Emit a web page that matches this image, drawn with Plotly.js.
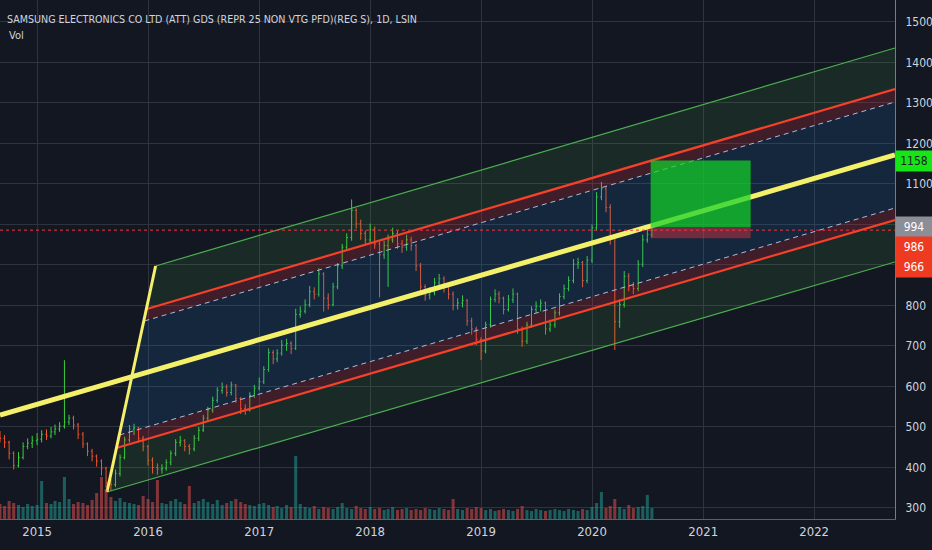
<!DOCTYPE html>
<html><head><meta charset="utf-8">
<script src="https://cdn.plot.ly/plotly-3.0.1.min.js"></script>
<style>html,body{margin:0;padding:0;background:#131722;}#chart{width:932px;height:550px;}</style>
</head><body><div id="chart"></div>
<script>
// ---- price data (semi-monthly OHLC) ----
const dates = [];
for (let y = 2014; y <= 2020; y++) {
  for (let m = 1; m <= 12; m++) {
    if (y === 2014 && m < 9) continue;
    if (y === 2020 && m > 7) break;
    const mm = String(m).padStart(2, '0');
    dates.push(y + '-' + mm + '-01', y + '-' + mm + '-16');
  }
}
const firstOpen = 478;
const closes = [
  472,462,435,405,425,452,460,466,
  470,482,478,488,495,502,512,522,505,482,458,440,428,416,398,362,358,385,425,468,495,498,472,452,
  418,400,396,398,412,435,462,466,452,446,472,492,522,542,566,590,598,585,604,570,545,542,578,596,
  612,642,684,668,682,702,706,694,778,786,802,834,828,878,818,802,846,898,944,968,1035,1002,978,962,
  988,952,925,948,962,978,952,944,962,948,898,846,826,832,856,866,845,828,800,806,812,762,742,716,
  688,752,815,828,818,790,814,828,742,712,752,790,798,806,742,752,782,822,842,862,902,906,862,912,
  992,1068,1088,1042,968,760,802,872,848,842,902,962,975,986
];
const highs = [
  490,480,466,440,438,462,472,478,
  485,492,494,500,506,512,665,530,528,510,488,462,446,432,420,402,372,395,432,476,505,508,500,478,
  456,425,410,408,420,442,470,478,470,458,480,500,530,550,575,598,610,605,612,606,574,556,586,604,
  622,650,694,690,692,715,718,712,792,798,815,848,845,892,882,830,856,905,952,978,1062,1040,1012,985,
  1002,995,958,960,975,992,985,962,975,970,952,905,852,845,868,878,872,852,835,818,825,816,770,748,
  722,760,822,840,835,822,826,842,832,748,760,798,810,815,810,765,790,830,852,872,915,918,910,922,
  1000,1080,1105,1095,1050,972,815,885,880,858,912,975,990,998
];
const lows = [
  462,448,420,395,400,420,445,448,
  455,462,468,472,480,488,496,505,494,470,448,428,415,402,380,350,342,352,378,420,462,480,462,440,
  405,385,382,385,392,405,428,452,440,432,440,465,488,515,535,560,582,575,578,560,532,530,538,572,
  590,606,636,655,660,676,688,680,690,770,780,796,815,822,785,790,798,840,890,936,960,990,962,948,
  955,940,820,915,846,955,940,930,935,935,885,832,812,815,825,848,832,815,788,790,795,750,728,702,
  665,682,745,808,805,778,785,806,730,698,705,745,782,785,728,735,745,775,815,835,855,890,845,855,
  905,985,1060,1030,950,690,745,795,835,828,835,895,955,968
];
const volumes = [
  150,130,180,160,140,120,150,130,
  140,380,160,150,180,170,420,200,150,170,160,140,190,260,420,300,220,180,210,170,160,150,140,230,
  200,170,390,160,150,180,200,170,150,330,160,180,200,170,150,190,140,160,180,200,170,150,140,130,
  150,160,140,120,130,110,140,120,630,150,120,110,130,100,120,110,100,120,160,110,100,130,110,100,
  120,100,110,90,100,120,90,100,110,90,100,90,110,100,90,110,100,90,200,100,90,110,100,120,
  110,90,100,80,90,100,90,80,100,130,90,80,100,90,80,90,100,90,80,100,90,80,100,90,
  120,160,270,110,130,200,120,100,140,110,120,130,240,110
];
const opens = closes.map((c, i) => i === 0 ? firstOpen : closes[i - 1]);

// ---- pitchfork drawing anchors (date, price) ----
const edgeDate = '2022-09-24';
const medianX = ['2014-09-01', edgeDate], medianY = [529.6, 1171.6];
const handleX = ['2015-08-19', '2016-01-26'], handleY = [339.5, 897.5];
const greenUpX = ['2016-01-26', edgeDate], greenUpY = [897.5, 1435.8];
const redUpX = ['2015-12-28', edgeDate], redUpY = [791.4, 1334.6];
const dashUpX = ['2015-12-20', edgeDate], dashUpY = [761.7, 1302.5];
const dashLoX = ['2015-09-29', edgeDate], dashLoY = [480.2, 1040.7];
const redLoX = ['2015-09-19', edgeDate], redLoY = [448.1, 1011.1];
const greenLoX = ['2015-08-19', edgeDate], greenLoY = [339.5, 907.4];

// ---- long position box ----
const boxX = ['2020-07-12', '2021-06-06'];
const targetPrice = 1158, entryPrice = 994, stopPrice = 966, lastPrice = 986;

// tick values; 900 and 1000 are hidden behind the price labels in the reference
const yTicks = [300,400,500,600,700,800,900,1000,1100,1200,1300,1400,1500];
const yTickText = ['300','400','500','600','700','800','','','1100','1200','1300','1400','1500'];

function band(topX, topY, botX, botY, color) {
  return {
    type: 'scatter', mode: 'lines', fill: 'toself', fillcolor: color,
    x: [topX[0], topX[1], botX[1], botX[0]], y: [topY[0], topY[1], botY[1], botY[0]],
    line: {width: 0}, hoverinfo: 'skip', showlegend: false
  };
}
function seg(x, y, color, width, dash) {
  return {type: 'scatter', mode: 'lines', x: x, y: y, line: {color: color, width: width, dash: dash || 'solid'},
    hoverinfo: 'skip', showlegend: false};
}

const GREEN_FILL = 'rgba(76,175,80,0.13)';
const RED_FILL = 'rgba(242,54,69,0.2)';
const BLUE_FILL = 'rgba(33,150,243,0.13)';

const traces = [
  band(greenUpX, greenUpY, redUpX, redUpY, GREEN_FILL),
  band(redUpX, redUpY, dashUpX, dashUpY, RED_FILL),
  band(dashUpX, dashUpY, dashLoX, dashLoY, BLUE_FILL),
  band(dashLoX, dashLoY, redLoX, redLoY, RED_FILL),
  band(redLoX, redLoY, greenLoX, greenLoY, GREEN_FILL),
  {
    type: 'bar', x: dates, y: volumes, yaxis: 'y2', width: 10 * 86400000,
    marker: {color: closes.map((c, i) => c >= opens[i] ? 'rgba(38,166,154,0.5)' : 'rgba(239,83,80,0.5)'), line: {width: 0}},
    hoverinfo: 'skip', showlegend: false
  },
  {
    type: 'ohlc', x: dates, open: opens, high: highs, low: lows, close: closes,
    increasing: {line: {color: '#3ccf3c', width: 1}},
    decreasing: {line: {color: '#f2552c', width: 1}},
    tickwidth: 0.3, hoverinfo: 'skip', showlegend: false
  },
  seg(greenUpX, greenUpY, '#4caf50', 1.2),
  seg(greenLoX, greenLoY, '#4caf50', 1.2),
  seg(dashUpX, dashUpY, '#a9bcdf', 1, '5px,4px'),
  seg(dashLoX, dashLoY, '#a9bcdf', 1, '5px,4px'),
  seg(redUpX, redUpY, '#f5402a', 2.2),
  seg(redLoX, redLoY, '#f5402a', 2.2),
  seg(medianX, medianY, '#f5f06a', 5),
  seg(handleX, handleY, '#f5f06a', 3)
];

const FONT = 'DejaVu Sans Condensed, Liberation Sans Narrow, sans-serif';

function priceLabel(val, text, bg, fg, yshift) {
  return {
    xref: 'paper', yref: 'y', x: 1, y: val, xanchor: 'left', yanchor: 'middle',
    text: text, showarrow: false, bgcolor: bg, borderpad: 0, width: 36, height: 20,
    yshift: yshift, font: {family: FONT, size: 12, color: fg}, align: 'center'
  };
}

const layout = {
  width: 932, height: 550,
  margin: {l: 0, r: 37, t: 0, b: 31},
  paper_bgcolor: '#131722', plot_bgcolor: '#131722',
  font: {family: FONT, color: '#d1d4dc', size: 12},
  title: {text: 'SAMSUNG ELECTRONICS CO LTD (ATT) GDS (REPR 25 NON VTG PFD)(REG S), 1D, LSIN',
    x: 7 / 932, xanchor: 'left', y: 1 - 19 / 550, yanchor: 'middle', xref: 'container', yref: 'container',
    font: {family: FONT, size: 10.6, color: '#d1d4dc'}},
  showlegend: false,
  xaxis: {
    type: 'date', range: ['2014-09-01', edgeDate], rangeslider: {visible: false},
    tick0: '2015-01-01', dtick: 'M12', tickformat: '%Y', ticks: '',
    showgrid: true, gridcolor: '#2f333e', gridwidth: 1,
    showline: true, linecolor: '#5d606b', linewidth: 1,
    zeroline: false, fixedrange: true,
    tickfont: {family: FONT, size: 13, color: '#d1d4dc'}
  },
  yaxis: {
    side: 'right', range: [272.8, 1554.3], tickmode: 'array', tickvals: yTicks, ticktext: yTickText,
    showgrid: true, gridcolor: '#2f333e', gridwidth: 1,
    showline: true, linecolor: '#787b86', linewidth: 1,
    zeroline: false, ticks: '', ticklabelstandoff: 7,
    tickfont: {family: FONT, size: 12, color: '#d1d4dc'}, fixedrange: true
  },
  yaxis2: {overlaying: 'y', range: [0, 5190], visible: false, fixedrange: true},
  shapes: [
    {type: 'rect', xref: 'x', yref: 'y', x0: boxX[0], x1: boxX[1], y0: entryPrice, y1: targetPrice,
      fillcolor: 'rgba(20,210,40,0.72)', line: {width: 0}, layer: 'above'},
    {type: 'rect', xref: 'x', yref: 'y', x0: boxX[0], x1: boxX[1], y0: stopPrice, y1: entryPrice,
      fillcolor: 'rgba(242,54,69,0.42)', line: {width: 0}, layer: 'above'},
    {type: 'line', xref: 'paper', yref: 'y', x0: 0, x1: 1, y0: lastPrice, y1: lastPrice,
      line: {color: '#f23645', width: 1, dash: 'dot'}, layer: 'above'}
  ],
  annotations: [
    {xref: 'paper', yref: 'paper', x: 0, y: 1 - 36 / 519, xshift: 7, xanchor: 'left', yanchor: 'middle',
      text: 'Vol', showarrow: false, font: {family: FONT, size: 11, color: '#d1d4dc'}},
    priceLabel(targetPrice, String(targetPrice), '#16e516', '#1b1e28', 0),
    priceLabel(entryPrice, String(entryPrice), '#8b8e97', '#ffffff', 0),
    priceLabel(lastPrice, String(lastPrice), '#ef3a22', '#ffffff', -17),
    priceLabel(stopPrice, String(stopPrice), '#ef3a22', '#ffffff', -29)
  ]
};

Plotly.newPlot('chart', traces, layout, {staticPlot: true, displayModeBar: false});
</script>
</body></html>
